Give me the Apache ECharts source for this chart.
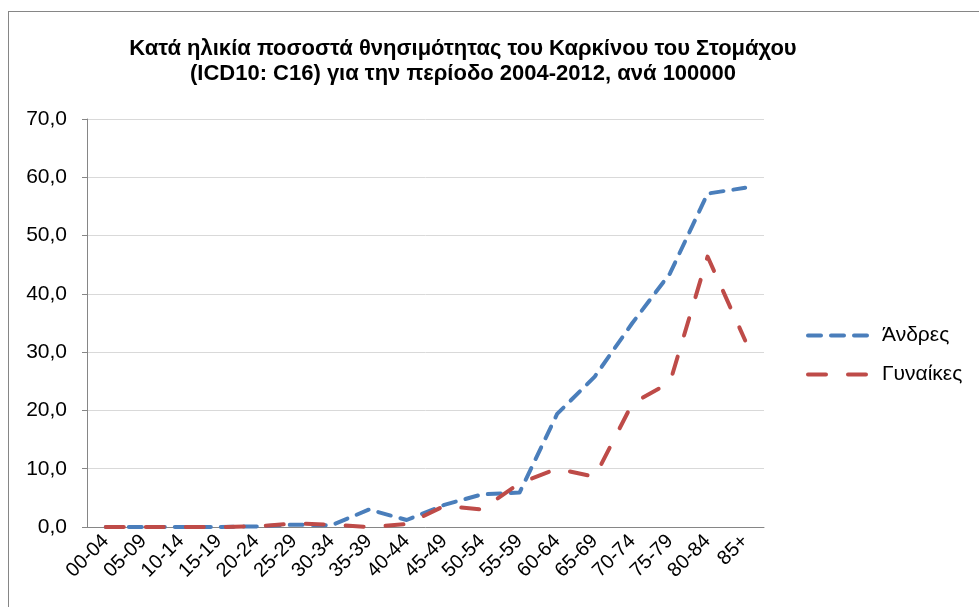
<!DOCTYPE html>
<html>
<head>
<meta charset="utf-8">
<script src="https://cdn.jsdelivr.net/npm/echarts@6/dist/echarts.min.js"></script>
<style>
  html, body { margin: 0; padding: 0; background: #fff; overflow: hidden; }
  #frame { position: absolute; left: 8px; top: 11px; width: 1000px; height: 700px;
           border-left: 1px solid #868686; border-top: 1px solid #868686; }
  #main { position: absolute; left: 0; top: 0; width: 979px; height: 607px; }
</style>
</head>
<body>
<div id="frame"></div>
<div id="main"></div>
<script>
// ηλικιακές ομάδες
var categories = ['00-04', '05-09', '10-14', '15-19', '20-24', '25-29', '30-34', '35-39', '40-44',
  '45-49', '50-54', '55-59', '60-64', '65-69', '70-74', '75-79', '80-84', '85+'];
// Άνδρες
var men = [0, 0, 0, 0, 0.1, 0.4, 0.3, 3.0, 1.2, 3.8, 5.6, 5.9, 19.4, 25.8, 35.0, 43.5, 57.2, 58.2];
// Γυναίκες
var women = [0, 0, 0, 0, 0.1, 0.6, 0.4, 0.0, 0.5, 3.6, 3.0, 7.5, 10.0, 8.6, 21.2, 24.8, 46.4, 32.0];
var yTicks = { min: 0, max: 70, interval: 10 };

var myChart = echarts.init(document.getElementById('main'));

var option = {
  animation: false,
  textStyle: { fontFamily: 'Liberation Sans, Arial, sans-serif' },
  title: {
    text: 'Κατά ηλικία ποσοστά θνησιμότητας του Καρκίνου του Στομάχου\n(ICD10: C16) για την περίοδο 2004-2012, ανά 100000',
    left: 458,
    top: 31,
    textAlign: 'center',
    textStyle: { fontSize: 22, fontWeight: 'bold', color: '#000', lineHeight: 25,
                 fontFamily: 'Liberation Sans, Arial, sans-serif' }
  },
  legend: {
    orient: 'vertical',
    left: 806,
    top: 325,
    padding: 0,
    itemWidth: 62,
    itemHeight: 14,
    itemGap: 18,
    itemStyle: { opacity: 0 },
    lineStyle: { width: 4, cap: 'round' },
    textStyle: { fontSize: 21, color: '#000', padding: [0, 0, 0, 7] },
    data: ['Άνδρες', 'Γυναίκες']
  },
  grid: { left: 87, right: 215, top: 119, bottom: 80 },
  xAxis: {
    type: 'category',
    data: categories,
    boundaryGap: true,
    axisLine: { lineStyle: { color: '#868686', width: 1 } },
    axisTick: { show: false },
    axisLabel: { rotate: 45, interval: 0, fontSize: 20, color: '#000', margin: 11 }
  },
  yAxis: {
    type: 'value',
    min: yTicks.min,
    max: yTicks.max,
    interval: yTicks.interval,
    axisLine: { show: true, lineStyle: { color: '#868686', width: 1 } },
    axisTick: { show: true, inside: false, length: 5, lineStyle: { color: '#868686' } },
    splitLine: { lineStyle: { color: '#d9d9d9', width: 1 } },
    axisLabel: {
      fontSize: 21, color: '#000', margin: 20,
      formatter: function (v) { return v.toFixed(1).replace('.', ','); }
    }
  },
  series: [
    {
      name: 'Άνδρες',
      type: 'line',
      data: men,
      symbol: 'none',
      lineStyle: { color: '#4A7EBB', width: 4, type: [13, 10], cap: 'round', join: 'round' },
      itemStyle: { color: '#4A7EBB' }
    },
    {
      name: 'Γυναίκες',
      type: 'line',
      data: women,
      symbol: 'none',
      lineStyle: { color: '#BE4B48', width: 4, type: [18, 22], cap: 'round', join: 'round' },
      itemStyle: { color: '#BE4B48' }
    }
  ]
};

option && myChart.setOption(option);
</script>
</body>
</html>
